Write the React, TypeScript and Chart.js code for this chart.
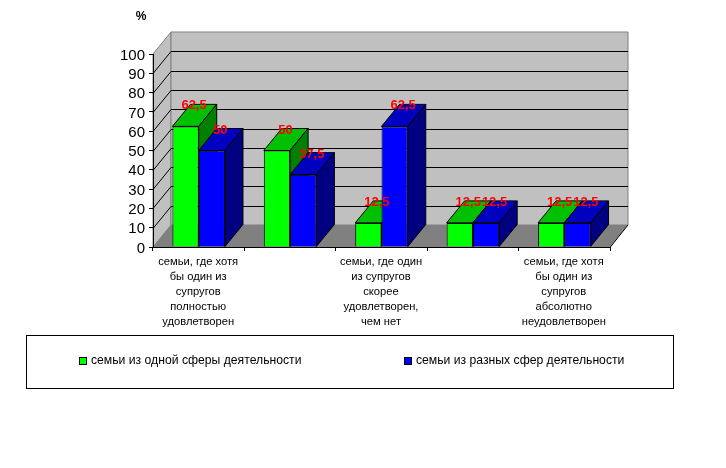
import React, { useEffect, useRef } from "react";
import { Chart, registerables } from "chart.js";

Chart.register(...registerables);

const categories: (string | string[])[] = [
  ["семьи, где хотя", "бы один из", "супругов", "полностью", "удовлетворен"],
  "",
  ["семьи, где один", "из супругов", "скорее", "удовлетворен,", "чем нет"],
  "",
  ["семьи, где хотя", "бы один из", "супругов", "абсолютно", "неудовлетворен"],
];
const sameField = [62.5, 50, 12.5, 12.5, 12.5];
const differentField = [50, 37.5, 62.5, 12.5, 12.5];
const sameLabel = "семьи из одной сферы деятельности";
const differentLabel = "семьи из разных сфер деятельности";
const unitLabel = "%";

const FONT = '"Liberation Sans", Arial, sans-serif';
const DX = 18;
const DY = 22;
const topColors = ["#00c000", "#0000c0"];
const sideColors = ["#008000", "#000080"];

function poly(ctx: CanvasRenderingContext2D, pts: number[][], fill: string | null, stroke: string | null) {
  ctx.beginPath();
  pts.forEach(([x, y], i) => (i ? ctx.lineTo(x, y) : ctx.moveTo(x, y)));
  ctx.closePath();
  if (fill) {
    ctx.fillStyle = fill;
    ctx.fill();
  }
  if (stroke) {
    ctx.strokeStyle = stroke;
    ctx.lineWidth = 1;
    ctx.stroke();
  }
}

const wallsPlugin = {
  id: "walls",
  beforeDraw(chart: any) {
    const ctx = chart.ctx;
    const { left, right, top, bottom } = chart.chartArea;
    const y = chart.scales.y;
    ctx.save();
    poly(ctx, [[left, bottom], [left + DX, bottom - DY], [left + DX, top - DY], [left, top]], "#c0c0c0", "#808080");
    poly(ctx, [[left + DX, bottom - DY], [right + DX, bottom - DY], [right + DX, top - DY], [left + DX, top - DY]], "#c0c0c0", "#808080");
    poly(ctx, [[left, bottom], [left + DX, bottom - DY], [right + DX, bottom - DY], [right, bottom]], "#808080", null);
    ctx.strokeStyle = "#000";
    ctx.lineWidth = 1;
    ctx.beginPath();
    ctx.moveTo(right, bottom + 0.5);
    ctx.lineTo(right + DX, bottom - DY);
    ctx.stroke();
    y.ticks.forEach((t: any) => {
      if (t.value === 0 || t.value === 100) return;
      const py = Math.round(y.getPixelForValue(t.value)) + 0.5;
      ctx.beginPath();
      ctx.moveTo(left, py);
      ctx.lineTo(left + DX, py - DY);
      ctx.lineTo(right + DX, py - DY);
      ctx.stroke();
    });
    ctx.restore();
  },
};

const barsPlugin = {
  id: "bars3d",
  beforeDatasetsDraw(chart: any) {
    const ctx = chart.ctx;
    ctx.save();
    chart.data.datasets.forEach((_: any, di: number) => {
      chart.getDatasetMeta(di).data.forEach((b: any) => {
        const l = b.x - b.width / 2;
        const r = b.x + b.width / 2;
        poly(ctx, [[l, b.y], [l + DX, b.y - DY], [r + DX, b.y - DY], [r, b.y]], topColors[di], "#000");
        poly(ctx, [[r, b.y], [r + DX, b.y - DY], [r + DX, b.base - DY], [r, b.base]], sideColors[di], "#000");
      });
    });
    ctx.restore();
  },
  afterDatasetsDraw(chart: any) {
    const ctx = chart.ctx;
    ctx.save();
    ctx.font = `bold 13px ${FONT}`;
    ctx.fillStyle = "#ff0000";
    ctx.textAlign = "center";
    ctx.textBaseline = "middle";
    chart.data.datasets.forEach((ds: any, di: number) => {
      chart.getDatasetMeta(di).data.forEach((b: any, i: number) => {
        ctx.fillText(String(ds.data[i]).replace(".", ","), b.x + DX / 2 - 0.5, b.y - DY + 1.5);
      });
    });
    ctx.restore();
  },
  afterDraw(chart: any) {
    const ctx = chart.ctx;
    ctx.save();
    ctx.strokeStyle = "#000";
    ctx.lineWidth = 1;
    ctx.strokeRect(26.5, 335.5, 647, 53);
    ctx.font = `12.2px ${FONT}`;
    ctx.textBaseline = "middle";
    ctx.textAlign = "left";
    const items = [
      { x: 79, text: chart.data.datasets[0].label, color: chart.data.datasets[0].backgroundColor },
      { x: 404, text: chart.data.datasets[1].label, color: chart.data.datasets[1].backgroundColor },
    ];
    items.forEach((it) => {
      ctx.fillStyle = it.color;
      ctx.fillRect(it.x + 0.5, 357.5, 7, 7);
      ctx.strokeRect(it.x + 0.5, 357.5, 7, 7);
      ctx.fillStyle = "#000";
      ctx.fillText(it.text, it.x + 12, 361);
    });
    ctx.font = `bold 12px ${FONT}`;
    ctx.textAlign = "center";
    ctx.fillText(unitLabel, 141, 17);
    ctx.restore();
  },
};

export default function App() {
  const ref = useRef<HTMLCanvasElement>(null);
  useEffect(() => {
    const chart = new Chart(ref.current as HTMLCanvasElement, {
      type: "bar",
      data: {
        labels: categories as any,
        datasets: [
          { label: sameLabel, data: sameField, backgroundColor: "#00ff00", borderColor: "#000", borderWidth: 1 },
          { label: differentLabel, data: differentField, backgroundColor: "#0000ff", borderColor: "#000", borderWidth: 1 },
        ],
      },
      options: {
        animation: false,
        responsive: false,
        layout: { padding: { left: 0, top: 54, right: 116, bottom: 121 } },
        plugins: { legend: { display: false }, tooltip: { enabled: false } },
        datasets: { bar: { categoryPercentage: 0.575, barPercentage: 1 } },
        scales: {
          x: {
            grid: { drawOnChartArea: false, color: "#000", tickLength: 4, offset: true },
            border: { color: "#000" },
            afterFit: (s: any) => { s.height = 100; },
            ticks: {
              autoSkip: false,
              maxRotation: 0,
              minRotation: 0,
              color: "#000",
              padding: 3,
              labelOffset: -0.5,
              font: { family: FONT, size: 11.2, lineHeight: "15px" },
            },
          },
          y: {
            min: 0,
            max: 100,
            grid: { drawOnChartArea: false, color: "#000", tickLength: 4 },
            border: { color: "#000" },
            afterFit: (s: any) => { s.width = 153; },
            ticks: {
              stepSize: 10,
              autoSkip: false,
              color: "#000",
              padding: 4,
              labelOffset: 1.5,
              font: { family: FONT, size: 15 },
            },
          },
        },
      } as any,
      plugins: [wallsPlugin, barsPlugin],
    });
    return () => chart.destroy();
  }, []);
  return (
    <canvas
      ref={ref}
      width={726}
      height={468}
      style={{ position: "absolute", left: 0, top: 0, width: 726, height: 468 }}
    />
  );
}
